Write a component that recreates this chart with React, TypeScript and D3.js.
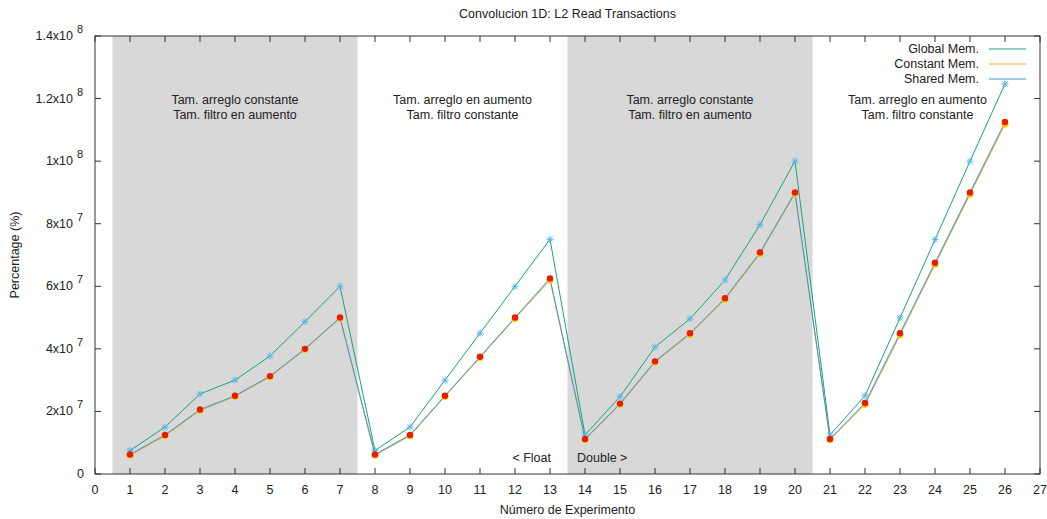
import React from 'react';
import * as d3 from 'd3';

// experimento 1..26
const experiments = d3.range(1, 27);
const globalMem = [7.5e6, 1.5e7, 2.56e7, 3.0e7, 3.77e7, 4.87e7, 6.0e7,
  7.5e6, 1.5e7, 3.0e7, 4.5e7, 6.0e7, 7.5e7,
  1.25e7, 2.47e7, 4.06e7, 4.96e7, 6.2e7, 7.97e7, 1.0e8,
  1.25e7, 2.5e7, 4.99e7, 7.49e7, 1.0e8, 1.247e8];
const constantMem = [6.0e6, 1.22e7, 2.03e7, 2.48e7, 3.1e7, 3.98e7, 4.98e7,
  6.0e6, 1.22e7, 2.48e7, 3.72e7, 4.97e7, 6.2e7,
  1.1e7, 2.22e7, 3.57e7, 4.46e7, 5.58e7, 7.04e7, 8.96e7,
  1.1e7, 2.22e7, 4.44e7, 6.7e7, 8.94e7, 1.118e8];
const sharedMem = [6.25e6, 1.25e7, 2.06e7, 2.5e7, 3.13e7, 4.0e7, 5.0e7,
  6.25e6, 1.25e7, 2.5e7, 3.75e7, 5.0e7, 6.25e7,
  1.12e7, 2.25e7, 3.6e7, 4.5e7, 5.62e7, 7.08e7, 9.0e7,
  1.12e7, 2.27e7, 4.5e7, 6.75e7, 9.0e7, 1.125e8];

const yTicks = [0, 2e7, 4e7, 6e7, 8e7, 1e8, 1.2e8, 1.4e8];
const xTicks = d3.range(0, 28);

const bands = [
  { from: 0.5, to: 7.5, shaded: true, mid: 4, lines: ['Tam. arreglo constante', 'Tam. filtro en aumento'] },
  { from: 7.5, to: 13.5, shaded: false, mid: 10.5, lines: ['Tam. arreglo en aumento', 'Tam. filtro constante'] },
  { from: 13.5, to: 20.5, shaded: true, mid: 17, lines: ['Tam. arreglo constante', 'Tam. filtro en aumento'] },
  { from: 20.5, to: 26.5, shaded: false, mid: 23.5, lines: ['Tam. arreglo en aumento', 'Tam. filtro constante'] },
];

const series = [
  { name: 'Global Mem.', values: globalMem, color: '#1aa37a' },
  { name: 'Constant Mem.', values: constantMem, color: '#e8a820' },
  { name: 'Shared Mem.', values: sharedMem, color: '#3a98d8' },
];

const W = 1047, H = 519;
const M = { left: 95, right: 7, top: 36, bottom: 45 };

function tickLabel(v: number) {
  if (v === 0) return { base: '0', exp: '' };
  const e = Math.floor(Math.log10(v));
  const m = +(v / Math.pow(10, e)).toFixed(2);
  return { base: `${m}x10`, exp: String(e) };
}

export default function App() {
  const x = d3.scaleLinear().domain([0, 27]).range([M.left, W - M.right]);
  const y = d3.scaleLinear().domain([0, 1.4e8]).range([H - M.bottom, M.top]);
  const line = d3.line<number>().x((_, i) => x(experiments[i])).y(d => y(d));
  const font = '"Liberation Sans", Arial, sans-serif';
  const top = y.range()[1], bot = y.range()[0];

  return (
    <svg width={W} height={H} style={{ position: 'absolute', left: 0, top: 0, background: '#fff' }}
      fontFamily={font} fontSize={12.5} fill="#222">
      {bands.filter(b => b.shaded).map((b, i) => (
        <rect key={i} x={x(b.from)} y={top} width={x(b.to) - x(b.from)} height={bot - top} fill="#d8d8d8" />
      ))}
      {bands.map((b, i) => (
        <text key={i} x={x(b.mid)} y={104} textAnchor="middle">
          {b.lines.map((l, j) => <tspan key={j} x={x(b.mid)} dy={j === 0 ? 0 : 15}>{l}</tspan>)}
        </text>
      ))}
      <text x={x(13) + 1} y={462} textAnchor="end">&lt; Float</text>
      <text x={x(14) - 8} y={462}>Double &gt;</text>

      {/* frame + ticks */}
      <rect x={M.left} y={top} width={x(27) - M.left} height={bot - top} fill="none" stroke="#333" strokeWidth={1} />
      {yTicks.map(t => {
        const lb = tickLabel(t);
        return (
          <g key={t}>
            <line x1={M.left} x2={M.left + 6} y1={y(t)} y2={y(t)} stroke="#333" />
            <line x1={x(27)} x2={x(27) - 6} y1={y(t)} y2={y(t)} stroke="#333" />
            <text x={lb.exp ? 73 : 84} y={y(t) + 4} textAnchor="end">{lb.base}</text>
            {lb.exp && <text x={77} y={y(t) - 3} fontSize={11}>{lb.exp}</text>}
          </g>
        );
      })}
      {xTicks.map(t => (
        <g key={t}>
          <line x1={x(t)} x2={x(t)} y1={bot} y2={bot - 6} stroke="#333" />
          <line x1={x(t)} x2={x(t)} y1={top} y2={top + 6} stroke="#333" />
          <text x={x(t)} y={bot + 20} textAnchor="middle">{t}</text>
        </g>
      ))}

      {/* lines */}
      {series.map(s => (
        <path key={s.name} d={line(s.values) || ''} fill="none" stroke={s.color} strokeWidth={1} />
      ))}
      {/* points */}
      {globalMem.map((v, i) => {
        const cx = x(experiments[i]), cy = y(v), r = 3.5;
        return (
          <g key={'g' + i} stroke="#56b4e9" strokeWidth={1}>
            <line x1={cx - r} x2={cx + r} y1={cy} y2={cy} />
            <line x1={cx} x2={cx} y1={cy - r} y2={cy + r} />
            <line x1={cx - r * 0.75} x2={cx + r * 0.75} y1={cy - r * 0.75} y2={cy + r * 0.75} />
            <line x1={cx - r * 0.75} x2={cx + r * 0.75} y1={cy + r * 0.75} y2={cy - r * 0.75} />
          </g>
        );
      })}
      {constantMem.map((v, i) => (
        <circle key={'c' + i} cx={x(experiments[i])} cy={y(v)} r={3.5} fill="#f2d000" />
      ))}
      {sharedMem.map((v, i) => (
        <circle key={'s' + i} cx={x(experiments[i])} cy={y(v)} r={3.2} fill="#e81c00" />
      ))}

      {/* legend */}
      {series.map((s, i) => (
        <g key={s.name}>
          <text x={979} y={53 + i * 15} textAnchor="end">{s.name}</text>
          <line x1={989} x2={1026} y1={49 + i * 15} y2={49 + i * 15} stroke={s.color} strokeWidth={1} />
        </g>
      ))}

      <text x={(M.left + x(27)) / 2} y={18} textAnchor="middle">Convolucion 1D: L2 Read Transactions</text>
      <text x={(M.left + x(27)) / 2} y={514} textAnchor="middle">Número de Experimento</text>
      <text transform={`translate(19,${(top + bot) / 2}) rotate(-90)`} textAnchor="middle">Percentage (%)</text>
    </svg>
  );
}
